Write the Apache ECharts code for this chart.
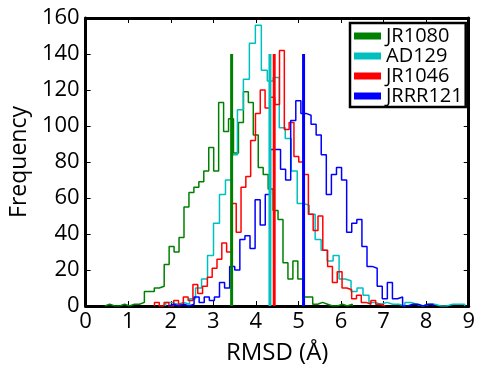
<!DOCTYPE html>
<html>
<head>
<meta charset="utf-8">
<script src="https://cdn.jsdelivr.net/npm/echarts@6/dist/echarts.min.js"></script>
<style>
  html, body { margin: 0; padding: 0; background: #fff; }
  #chart { width: 478px; height: 377px; }
</style>
</head>
<body>
<div id="chart"></div>
<script>
// ---- data ----
const seriesNames = ['JR1080', 'AD129', 'JR1046', 'JRRR121'];
const seriesColors = ['#008000', '#00bfbf', '#ff0000', '#0000ff'];

// histogram bins: first edge and bin width for each series (Å)
const binStart = [0.45, 1.88, 1.617, 1.95];
const binWidth = [0.1163, 0.1405, 0.113, 0.1195];

// counts per bin
const countsJR1080 = [1,0,0,1,0,1,1,2,8,8,10,11,23,33,30,38,55,63,66,69,75,88,75,113,97,104,85,102,119,113,95,77,73,65,53,48,24,15,25,15,5,5,1,2,1,0,0,1,0,1];
const countsAD129 = [2,1,2,1,4,10,15,28,46,62,70,84,109,126,146,156,131,125,127,99,93,75,57,56,51,37,31,25,28,15,14,8,10,6,2,1,2,1,1,0,2,1,0,1,1,0,0,1,1,1];
const countsJR1046 = [2,0,2,0,3,1,5,3,12,7,11,16,21,26,35,30,57,41,66,72,92,107,120,110,116,112,142,98,102,83,80,73,51,42,50,31,22,13,19,10,9,4,6,2,1,3,1,0];
const countsJRRR121 = [1,0,1,0,1,5,2,5,3,5,13,10,22,20,37,39,32,59,45,62,87,87,76,70,103,114,107,106,101,95,84,62,73,77,70,41,46,48,33,22,21,11,4,13,4,5,0,1,1,0,1,1];

// mean markers (vertical lines)
const meanRMSD = [3.43, 4.33, 4.43, 5.12];
const meanLineTop = 140;

// axis ticks
const xTicks = [0, 1, 2, 3, 4, 5, 6, 7, 8, 9];
const yTicks = [0, 20, 40, 60, 80, 100, 120, 140, 160];

const allCounts = [countsJR1080, countsAD129, countsJR1046, countsJRRR121];

// build step outline (matplotlib histtype='step') from bins
function stepPoints(start, width, counts) {
  const pts = [[start, 0]];
  for (let i = 0; i < counts.length; i++) {
    pts.push([start + i * width, counts[i]]);
  }
  const end = start + counts.length * width;
  pts.push([end, counts[counts.length - 1]]);
  pts.push([end, 0]);
  return pts;
}

const FONT = 'Open Sans';
const series = [];
seriesNames.forEach((name, i) => {
  series.push({
    name: name,
    type: 'line',
    step: 'end',
    showSymbol: false,
    symbol: 'none',
    data: stepPoints(binStart[i], binWidth[i], allCounts[i]),
    lineStyle: { color: seriesColors[i], width: 1.5 },
    itemStyle: { color: seriesColors[i] },
    z: 2 + i,
    silent: true
  });
});
seriesNames.forEach((name, i) => {
  series.push({
    name: name + ' mean',
    type: 'line',
    showSymbol: false,
    symbol: 'none',
    data: [[meanRMSD[i], 0], [meanRMSD[i], meanLineTop]],
    lineStyle: { color: seriesColors[i], width: 3 },
    itemStyle: { color: seriesColors[i] },
    z: 10 + i,
    silent: true
  });
});

const axisLineStyle = { show: true, onZero: false, lineStyle: { color: '#000', width: 3 } };
const tickStyle = { show: true, inside: true, length: 5, lineStyle: { color: '#000', width: 1 } };

const option = {
  animation: false,
  backgroundColor: '#fff',
  grid: { left: 82, right: 9, top: 18, bottom: 71, show: false },
  legend: {
    data: seriesNames,
    orient: 'vertical',
    left: 350,
    top: 23,
    icon: 'rect',
    itemWidth: 27,
    itemHeight: 7,
    itemGap: 0,
    padding: [3, 3, 1, 4],
    borderColor: '#000',
    borderWidth: 2.5,
    backgroundColor: '#fff',
    textStyle: { fontSize: 20, lineHeight: 18, fontFamily: FONT, color: '#000' }
  },
  xAxis: [
    {
      type: 'value', min: xTicks[0], max: xTicks[xTicks.length - 1], interval: 1,
      position: 'bottom',
      axisLine: axisLineStyle, axisTick: tickStyle,
      axisLabel: { fontSize: 22, color: '#000', fontFamily: FONT, margin: 5 },
      splitLine: { show: false },
      name: 'RMSD (Å)', nameLocation: 'middle', nameGap: 35,
      nameTextStyle: { fontSize: 24, color: '#000', fontFamily: FONT }
    },
    {
      type: 'value', min: xTicks[0], max: xTicks[xTicks.length - 1], interval: 1,
      position: 'top',
      axisLine: axisLineStyle, axisTick: tickStyle,
      axisLabel: { show: false }, splitLine: { show: false }
    }
  ],
  yAxis: [
    {
      type: 'value', min: yTicks[0], max: yTicks[yTicks.length - 1], interval: 20,
      position: 'left',
      axisLine: axisLineStyle, axisTick: tickStyle,
      axisLabel: { fontSize: 22, color: '#000', fontFamily: FONT, margin: 6 },
      splitLine: { show: false },
      name: 'Frequency', nameLocation: 'middle', nameGap: 48,
      nameTextStyle: { fontSize: 23, color: '#000', fontFamily: FONT }
    },
    {
      type: 'value', min: yTicks[0], max: yTicks[yTicks.length - 1], interval: 20,
      position: 'right',
      axisLine: axisLineStyle, axisTick: tickStyle,
      axisLabel: { show: false }, splitLine: { show: false }
    }
  ],
  series: series
};

const chart = echarts.init(document.getElementById('chart'), null, { renderer: 'canvas' });
chart.setOption(option);
</script>
</body>
</html>
